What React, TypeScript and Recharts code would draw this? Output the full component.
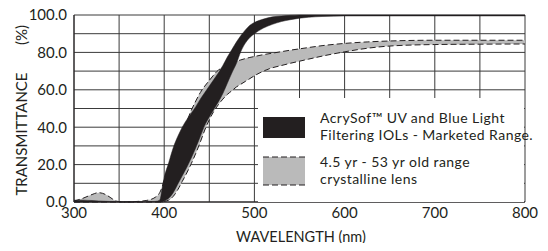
import React from 'react';
import { ComposedChart, Area, XAxis, YAxis, CartesianGrid } from 'recharts';

const wavelengths = [300, 310, 320, 327, 335, 340, 347, 355, 370, 380, 390, 395, 398, 400, 405, 410, 415, 420, 425, 430, 435, 440, 445, 450, 455, 460, 465, 470, 475, 480, 485, 490, 495, 500, 510, 520, 530, 540, 550, 560, 575, 600, 625, 650, 700, 750, 800];

// AcrySof band (black)
const iolHigh = [1, 1, 0.8, 0.6, 0.4, 0.3, 0.2, 0.1, 0.1, 0.2, 0.3, 1, 8, 13, 21, 29, 35, 40, 44, 47.5, 51, 55, 58.5, 62, 65.5, 69, 73, 77.5, 81.5, 85.5, 89, 92, 94.5, 96, 97.8, 99, 99.5, 99.8, 100, 100, 100, 100, 100, 100, 100, 100, 100];
const iolLow = [0, 0, 0, 0, 0, 0, 0, 0, 0, 0, 0, 0, 0, 0.5, 2, 5, 9.5, 14, 18.5, 23.5, 29, 35, 41, 45.5, 49.5, 53.5, 58, 63.5, 69, 74, 80.5, 85, 88, 90, 93, 95, 96.5, 97.5, 98.3, 98.8, 99.2, 99.5, 99.5, 99.5, 99.5, 99.5, 99.5];

// crystalline lens band (grey, dashed edges)
const lensHigh = [0.5, 2, 4, 5, 4, 2.5, 0.5, 0, 0.3, 0.8, 2.5, 5, 8.5, 12, 19, 25, 31, 37, 43, 49, 54, 58.5, 62, 65, 68, 70.5, 72, 73.2, 74.2, 75.2, 76, 76.7, 77.3, 77.8, 78.8, 79.6, 80.4, 81.2, 81.9, 82.6, 83.6, 84.8, 85.6, 86.1, 86.5, 86.5, 86.5];
const lensLow = [0, 0, 0, 0, 0, 0, 0, 0, 0, 0, 0, 0, 0, 0.3, 1, 3, 6.5, 11, 15.5, 20.5, 26, 32, 38.5, 44, 48.5, 52, 55, 57.5, 59.5, 61.5, 63, 64.5, 66, 67.5, 70, 71.8, 73, 74.2, 75.3, 76.4, 78, 80.3, 82.2, 83.4, 84.2, 84.4, 84.5];

const xTicks = [300, 350, 400, 450, 500, 550, 600, 650, 700, 750, 800];
const yTicks = [0, 10, 20, 30, 40, 50, 60, 70, 80, 90, 100];

const data = wavelengths.map((nm, i) => ({
  nm,
  iol: [iolLow[i], iolHigh[i]],
  lens: [lensLow[i], lensHigh[i]],
}));

const ink = '#231f20';
const grey = '#bababa';
const font = 'Lato, "Open Sans", sans-serif';

const App: React.FC = () => {
  return (
    <div style={{ position: 'relative', width: 548, height: 251, margin: -8, fontFamily: font, background: '#fff' }}>
      <ComposedChart width={548} height={251} data={data} margin={{ top: 15, right: 23, bottom: 0, left: 0 }}>
        <CartesianGrid stroke="#3a3a3a" strokeWidth={1} />
        <XAxis
          dataKey="nm"
          type="number"
          domain={[300, 800]}
          ticks={xTicks}
          tickFormatter={(v: number) => (v % 100 === 0 ? String(v) : '')}
          height={49}
          tickLine={false}
          tickSize={0}
          tickMargin={5}
          stroke={ink}
          tick={{ fill: ink, fontSize: 15, fontFamily: font }}
          label={{
            content: () => (
              <text x={301} y={242} textAnchor="middle" fill={ink} fontSize={14.5} fontFamily={font}>
                WAVELENGTH (nm)
              </text>
            ),
          }}
        />
        <YAxis
          type="number"
          domain={[0, 100]}
          ticks={yTicks}
          tickFormatter={(v: number) => (v % 20 === 0 ? v.toFixed(1) : '')}
          width={74}
          tickLine={false}
          tickSize={0}
          tickMargin={7}
          stroke={ink}
          tick={{ fill: ink, fontSize: 15, fontFamily: font }}
          label={{
            content: () => (
              <g fill={ink} fontSize={15} fontFamily={font}>
                <text transform="translate(27,134) rotate(-90)" textAnchor="middle">TRANSMITTANCE</text>
                <text transform="translate(27,35) rotate(-90)" textAnchor="middle">(%)</text>
              </g>
            ),
          }}
        />
        <Area
          dataKey="lens"
          type="monotone"
          fill={grey}
          fillOpacity={1}
          stroke={ink}
          strokeWidth={1}
          strokeDasharray="6 3"
          isAnimationActive={false}
        />
        <Area
          dataKey="iol"
          type="monotone"
          fill={ink}
          fillOpacity={1}
          stroke={ink}
          strokeWidth={0.5}
          isAnimationActive={false}
        />
      </ComposedChart>
      <div
        style={{
          position: 'absolute',
          left: 258,
          top: 98,
          width: 266,
          height: 104,
          background: '#fff',
          color: ink,
          fontSize: 14,
          lineHeight: '17px',
          letterSpacing: 0.45,
        }}
      >
        <div style={{ position: 'absolute', left: 5, top: 19, width: 42, height: 21, background: ink }} />
        <div style={{ position: 'absolute', left: 62, top: 11, whiteSpace: 'nowrap' }}>
          AcrySof™ UV and Blue Light
          <br />
          Filtering IOLs - Marketed Range.
        </div>
        <svg style={{ position: 'absolute', left: 5, top: 58 }} width={42} height={30}>
          <rect x={0} y={1} width={42} height={28} fill={grey} />
          <line x1={0} y1={1} x2={42} y2={1} stroke={ink} strokeWidth={1} strokeDasharray="6 3" />
          <line x1={0} y1={29} x2={42} y2={29} stroke={ink} strokeWidth={1} strokeDasharray="6 3" />
        </svg>
        <div style={{ position: 'absolute', left: 62, top: 55, whiteSpace: 'nowrap' }}>
          4.5 yr - 53 yr old range
          <br />
          crystalline lens
        </div>
      </div>
    </div>
  );
};

export default App;
